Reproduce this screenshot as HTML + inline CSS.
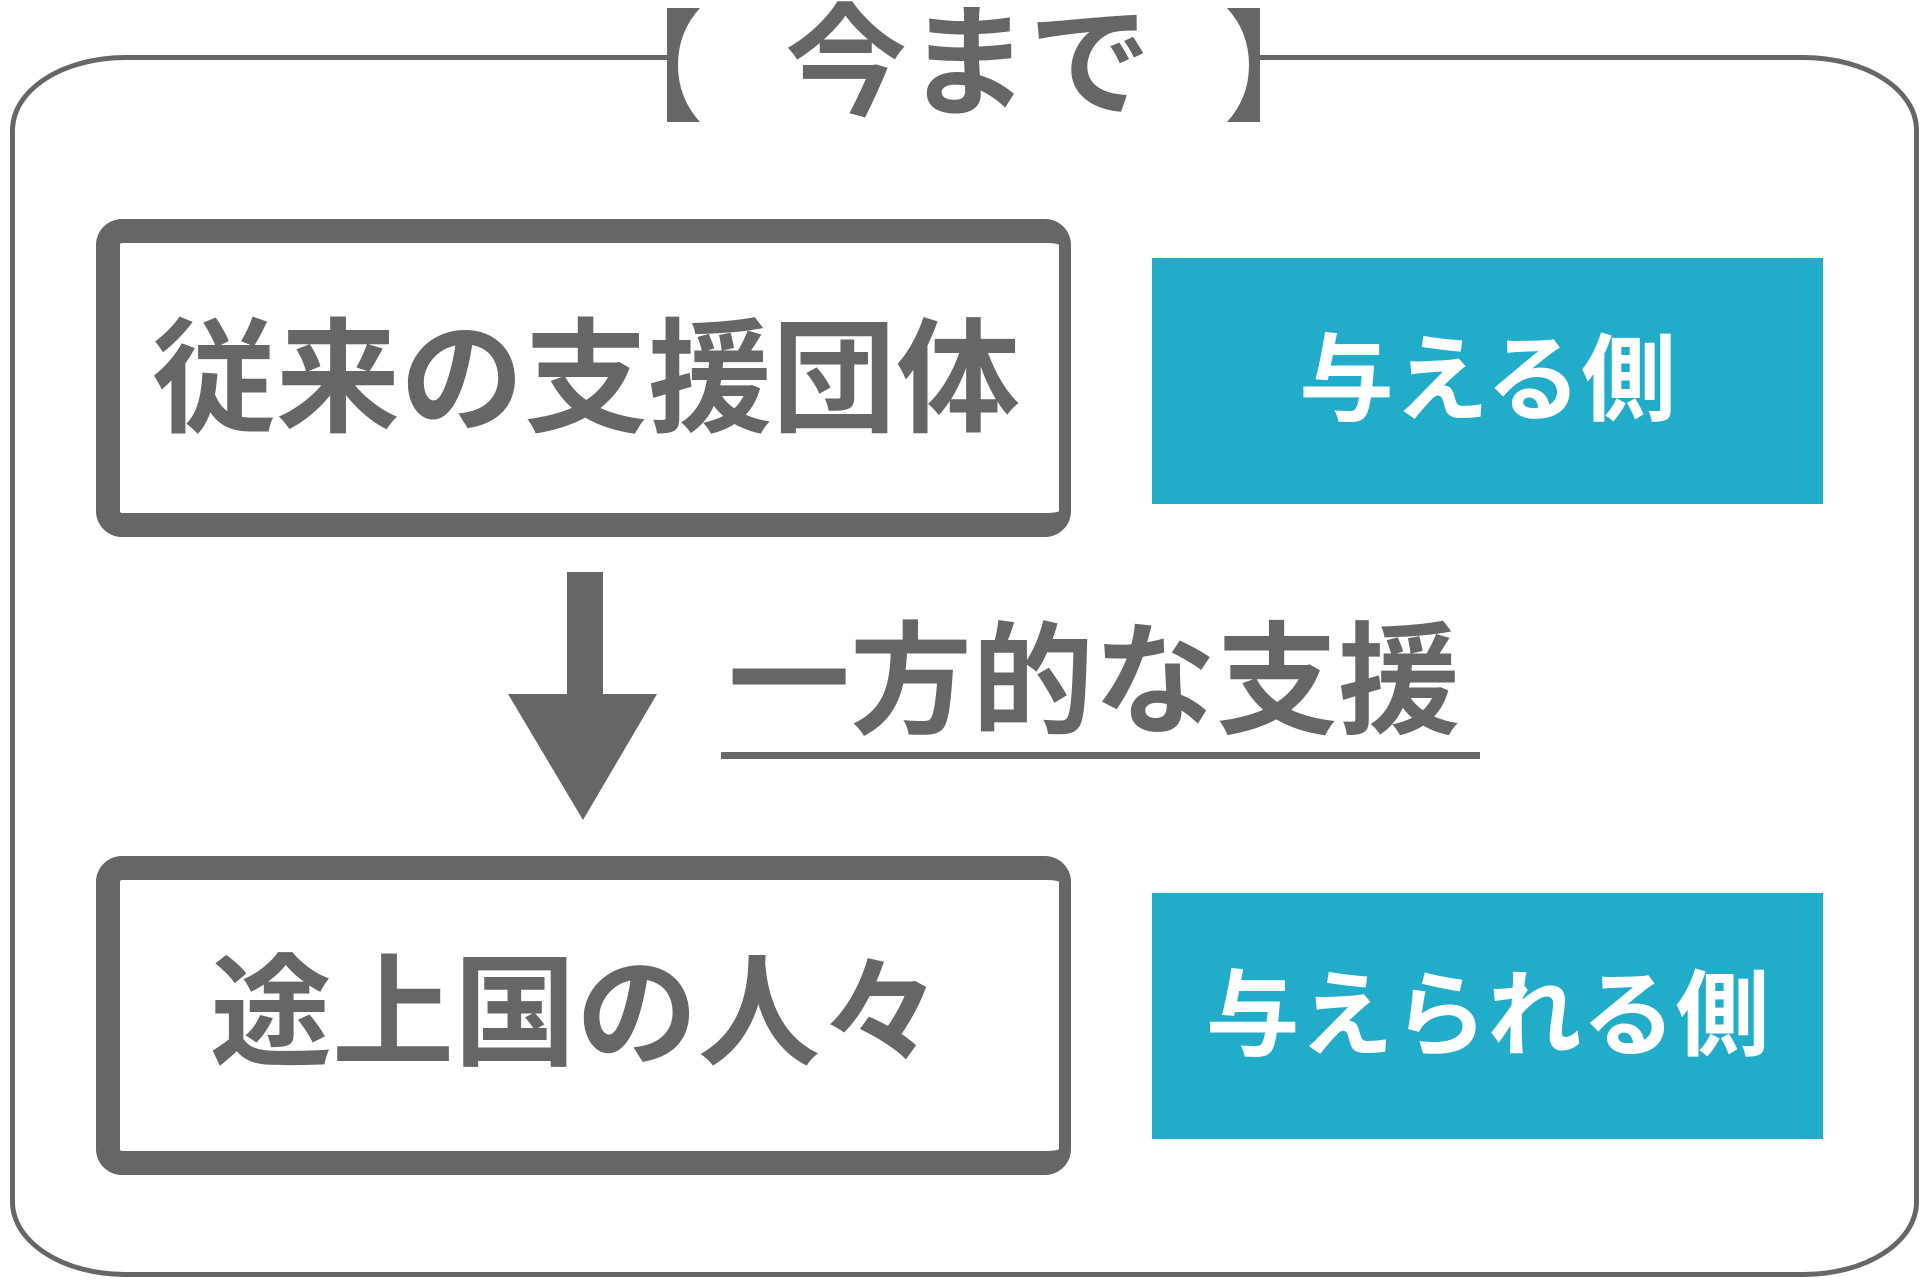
<!DOCTYPE html>
<html><head><meta charset="utf-8"><style>
body{margin:0;width:1926px;height:1283px;background:#fff;position:relative;overflow:hidden;font-family:"Liberation Sans","Noto Sans CJK JP",sans-serif;font-weight:bold}
.a{position:absolute;box-sizing:border-box}
.t{position:absolute;white-space:nowrap;line-height:1;display:flex;align-items:center;justify-content:center}
</style></head><body>
<div class="a" style="left:10px;top:55px;width:1909px;height:1222px;border:5px solid #666;border-radius:115px/75px"></div>
<div class="a" style="left:668px;top:20px;width:590px;height:80px;background:#fff"></div>
<svg class="a" style="left:0;top:0" width="1926" height="1283">
<path d="M700 8 L667 8 L667 122 L700 122 Q678 98 678 65 Q678 32 700 8Z" fill="#666"/>
<path d="M1227 8 L1260 8 L1260 122 L1227 122 Q1249 98 1249 65 Q1249 32 1227 8Z" fill="#666"/>
<rect x="567" y="572" width="36" height="123" fill="#666"/>
<polygon points="508,694 657,694 583,820" fill="#666"/>
<rect x="721" y="752" width="759" height="7" fill="#666"/>
</svg>
<div class="t" style="left:758px;top:2px;width:420px;height:124px;font-size:122px;color:#666">今まで</div>
<div class="a" style="left:96px;top:219px;width:975px;height:318px;border:24px solid #666;border-right-width:12px;border-radius:26px"></div>
<div class="t" style="left:116px;top:318px;width:940px;height:124px;font-size:124px;color:#666">従来の支援団体</div>
<div class="a" style="left:1152px;top:258px;width:671px;height:246px;background:#21adc9"></div>
<div class="t" style="left:1152px;top:258px;width:671px;height:246px;font-size:95px;color:#fff">与える側</div>
<div class="t" style="left:728px;top:620px;width:750px;height:124px;font-size:122px;color:#666;justify-content:flex-start">一方的な支援</div>
<div class="a" style="left:96px;top:856px;width:975px;height:319px;border:24px solid #666;border-right-width:12px;border-radius:26px"></div>
<div class="t" style="left:210px;top:952px;width:740px;height:124px;font-size:122px;color:#666;justify-content:flex-start">途上国の人々</div>
<div class="a" style="left:1152px;top:893px;width:671px;height:246px;background:#21adc9"></div>
<div class="t" style="left:1152px;top:893px;width:671px;height:246px;font-size:94px;color:#fff">与えられる側</div>
</body></html>
